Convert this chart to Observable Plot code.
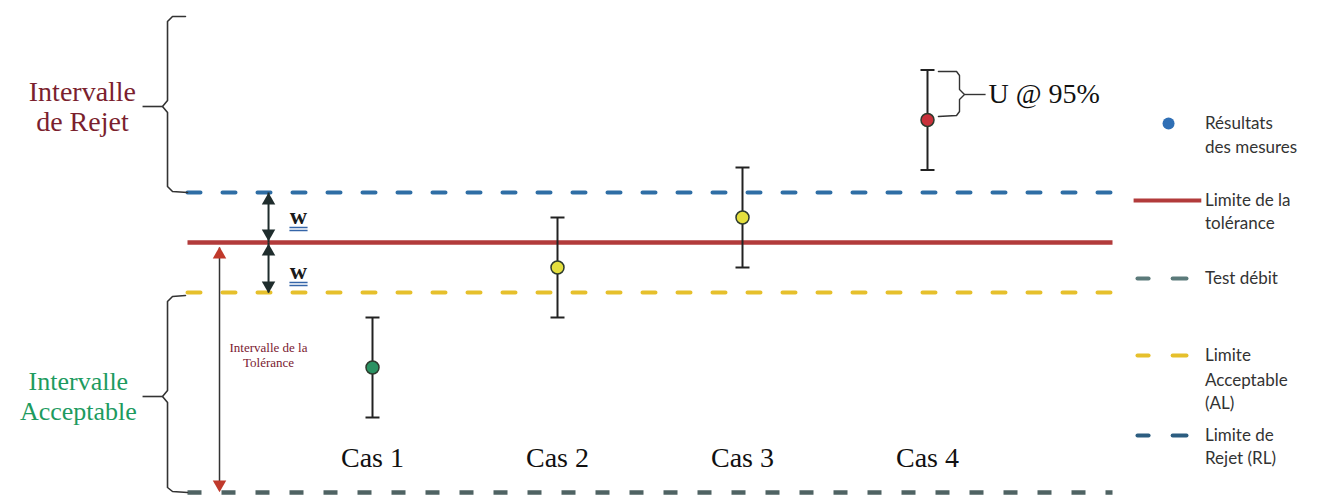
<!DOCTYPE html>
<html><head><meta charset="utf-8">
<script src="https://cdn.jsdelivr.net/npm/d3@7"></script>
<script src="https://cdn.jsdelivr.net/npm/@observablehq/plot@0.6"></script>
<style>html,body{margin:0;padding:0;background:#fff;}#chart{width:1321px;height:495px;}</style>
</head><body><div id="chart"></div>
<script>
// ---- data (y in units of w around the tolerance limit, x in case index) ----
const caseLabels = ["Cas 1", "Cas 2", "Cas 3", "Cas 4"];
const casePos = [1, 2, 3, 4];
const measured = [-2.5, -0.5, 0.5, 2.45];
const expandedU = [1, 1, 1, 1];
const caseColors = ["#2a9262", "#e4df3e", "#e4df3e", "#c9313b"];

const toleranceLimit = 0;
const guardW = 1;
const rejectLimit = toleranceLimit + guardW;
const acceptLimit = toleranceLimit - guardW;
const testLevel = -5;
const lineSpan = [0, 5];

const rejetLabel = ["Intervalle", "de Rejet"];
const rejetLabelY = [3.0, 2.4];
const acceptLabel = ["Intervalle", "Acceptable"];
const acceptLabelY = [-2.78, -3.38];
const tolLabel = ["Intervalle de la", "Tolérance"];
const tolLabelY = [-2.1, -2.4];
const caseLabelY = -4.32;

const braceTop = [[-0.011,4.52],[-0.081,4.52],[-0.108,4.42],[-0.108,2.84],[-0.135,2.72],[-0.108,2.6],[-0.108,1.12],[-0.081,1.02],[0,1.0]];
const braceBottom = [[-0.011,-1.06],[-0.081,-1.08],[-0.108,-1.18],[-0.108,-2.96],[-0.135,-3.08],[-0.108,-3.2],[-0.108,-4.9],[-0.081,-4.98],[0,-5.0]];
const braceConnectors = [{x1:-0.243,x2:-0.135,y1:2.72,y2:2.72},{x1:-0.243,x2:-0.135,y1:-3.08,y2:-3.08}];
const braceU = [[4.059,3.42],[4.157,3.42],[4.173,3.34],[4.173,3.06],[4.2,2.96],[4.173,2.86],[4.173,2.62],[4.157,2.54],[4.059,2.52]];
const braceUConnector = [{x1:4.2,x2:4.314,y1:2.96,y2:2.96}];
const uLabel = "U @ 95%";
const uLabelPos = [4.33, 2.96];

const wArrowX = 0.438;
const wShafts = [{y1:rejectLimit,y2:toleranceLimit},{y1:toleranceLimit,y2:acceptLimit}];
const wHeads = [{y:0.84,rot:0},{y:0.18,rot:180},{y:-0.18,rot:0},{y:-0.86,rot:180}];
const wLabel = ["w", "w"];
const wLabelY = [0.52, -0.58];
const wUnderY = [0.3, 0.24, -0.8, -0.86];
const wUnderX = [0.551, 0.649];
const wLabelX = 0.6;

const tolArrowX = 0.173;
const tolShaft = [{y1:-0.1,y2:-4.9}];
const tolHeads = [{y:-0.24,rot:0},{y:-4.84,rot:180}];
const tolLabelX = 0.438;

const legendText = ["Résultats","des mesures","Limite de la","tolérance","Test débit","Limite","Acceptable","(AL)","Limite de","Rejet (RL)"];
const legendTextY = [2.38,1.9,0.84,0.38,-0.72,-2.26,-2.76,-3.22,-3.86,-4.32];
const legendTextX = 5.5;
const legendDot = [[5.303, 2.38]];
const legendRedLine = [{x1:5.114,x2:5.48,y1:0.84,y2:0.84}];
const legendDashX = [[5.135,5.195],[5.325,5.4]];
const legendDashY = {test:-0.72, al:-2.26, rl:-3.86};

// ---- derived ----
const points = caseLabels.map((name, i) => ({name, x: casePos[i], v: measured[i], u: expandedU[i], color: caseColors[i]}));
const capHalf = 7 / 185;
const caps = points.flatMap(d => [d.v + d.u, d.v - d.u].map(y => ({x: d.x, y})));
const serif = "'Liberation Serif', 'Times New Roman', serif";
const sans = "Lato, 'Open Sans', sans-serif";

const hline = (y, stroke, dash, width, cap) => Plot.link([y], {
  x1: () => lineSpan[0], x2: () => lineSpan[1], y1: d => d, y2: d => d,
  stroke, strokeWidth: width, strokeDasharray: dash, strokeLinecap: cap
});
const legendDashes = (y, stroke) => Plot.link(legendDashX, {
  x1: d => d[0], x2: d => d[1], y1: () => y, y2: () => y,
  stroke, strokeWidth: 4, strokeLinecap: "round"
});

const plot = Plot.plot({
  width: 1321, height: 495, margin: 0,
  x: {domain: [-187 / 185, 1134 / 185], axis: null},
  y: {domain: [-253 / 50, 242 / 50], axis: null},
  color: {type: "identity"},
  style: {background: "#fff", overflow: "visible"},
  marks: [
    hline(rejectLimit, "#2f6ea5", "13,22", 4, "round"),
    hline(acceptLimit, "#e6c02c", "13,22", 4, "round"),
    hline(testLevel, "#4f6363", "14,20", 4.5, "butt"),
    hline(toleranceLimit, "#b23b3b", null, 4.5, "butt"),

    // braces
    Plot.line(braceTop, {stroke: "#333", strokeWidth: 1.6}),
    Plot.line(braceBottom, {stroke: "#333", strokeWidth: 1.6}),
    Plot.link(braceConnectors, {x1: "x1", x2: "x2", y1: "y1", y2: "y2", stroke: "#333", strokeWidth: 1.6}),
    Plot.text(rejetLabel, {x: () => -0.568, y: (d, i) => rejetLabelY[i], text: d => d, fontFamily: serif, fontSize: 28, fill: "#7b1f2e"}),
    Plot.text(acceptLabel, {x: () => -0.59, y: (d, i) => acceptLabelY[i], text: d => d, fontFamily: serif, fontSize: 26, fill: "#1d9b5f"}),

    // w arrows
    Plot.link(wShafts, {x1: () => wArrowX, x2: () => wArrowX, y1: "y1", y2: "y2", stroke: "#1f2d2d", strokeWidth: 2}),
    Plot.dot(wHeads, {x: () => wArrowX, y: "y", rotate: "rot", symbol: "triangle", r: 5, fill: "#1f2d2d"}),
    Plot.text(wLabel, {x: () => wLabelX, y: (d, i) => wLabelY[i], text: d => d, fontFamily: serif, fontSize: 24, fontWeight: "bold", fill: "#1a1a1a"}),
    Plot.link(wUnderY, {x1: () => wUnderX[0], x2: () => wUnderX[1], y1: d => d, y2: d => d, stroke: "#3565a8", strokeWidth: 1.5}),

    // tolerance interval arrow
    Plot.link(tolShaft, {x1: () => tolArrowX, x2: () => tolArrowX, y1: "y1", y2: "y2", stroke: "#333", strokeWidth: 1.5}),
    Plot.dot(tolHeads, {x: () => tolArrowX, y: "y", rotate: "rot", symbol: "triangle", r: 5, fill: "#c0392b"}),
    Plot.text(tolLabel, {x: () => tolLabelX, y: (d, i) => tolLabelY[i], text: d => d, fontFamily: serif, fontSize: 13, fill: "#7a2030"}),

    // error bars and results
    Plot.ruleX(points, {x: "x", y1: d => d.v - d.u, y2: d => d.v + d.u, stroke: "#222", strokeWidth: 2}),
    Plot.link(caps, {x1: d => d.x - capHalf, x2: d => d.x + capHalf, y1: "y", y2: "y", stroke: "#222", strokeWidth: 2}),
    Plot.dot(points, {x: "x", y: "v", r: 6.5, fill: "color", stroke: "#2d3a2d", strokeWidth: 1.5}),
    Plot.text(points, {x: "x", y: () => caseLabelY, text: "name", fontFamily: serif, fontSize: 28, fill: "#111"}),

    // U @ 95%
    Plot.line(braceU, {stroke: "#333", strokeWidth: 1.4}),
    Plot.link(braceUConnector, {x1: "x1", x2: "x2", y1: "y1", y2: "y2", stroke: "#333", strokeWidth: 1.4}),
    Plot.text([uLabel], {x: () => uLabelPos[0], y: () => uLabelPos[1], text: d => d, textAnchor: "start", fontFamily: serif, fontSize: 28, fill: "#111"}),

    // legend
    Plot.dot(legendDot, {r: 6, fill: "#2f6fb5"}),
    Plot.link(legendRedLine, {x1: "x1", x2: "x2", y1: "y1", y2: "y2", stroke: "#b23b3b", strokeWidth: 4}),
    legendDashes(legendDashY.test, "#5b7a7a"),
    legendDashes(legendDashY.al, "#e6c02c"),
    legendDashes(legendDashY.rl, "#2c5d80"),
    Plot.text(legendText, {x: () => legendTextX, y: (d, i) => legendTextY[i], text: d => d, textAnchor: "start", fontFamily: sans, fontSize: 17, fill: "#333"})
  ]
});
document.getElementById("chart").appendChild(plot);
</script>
</body></html>
